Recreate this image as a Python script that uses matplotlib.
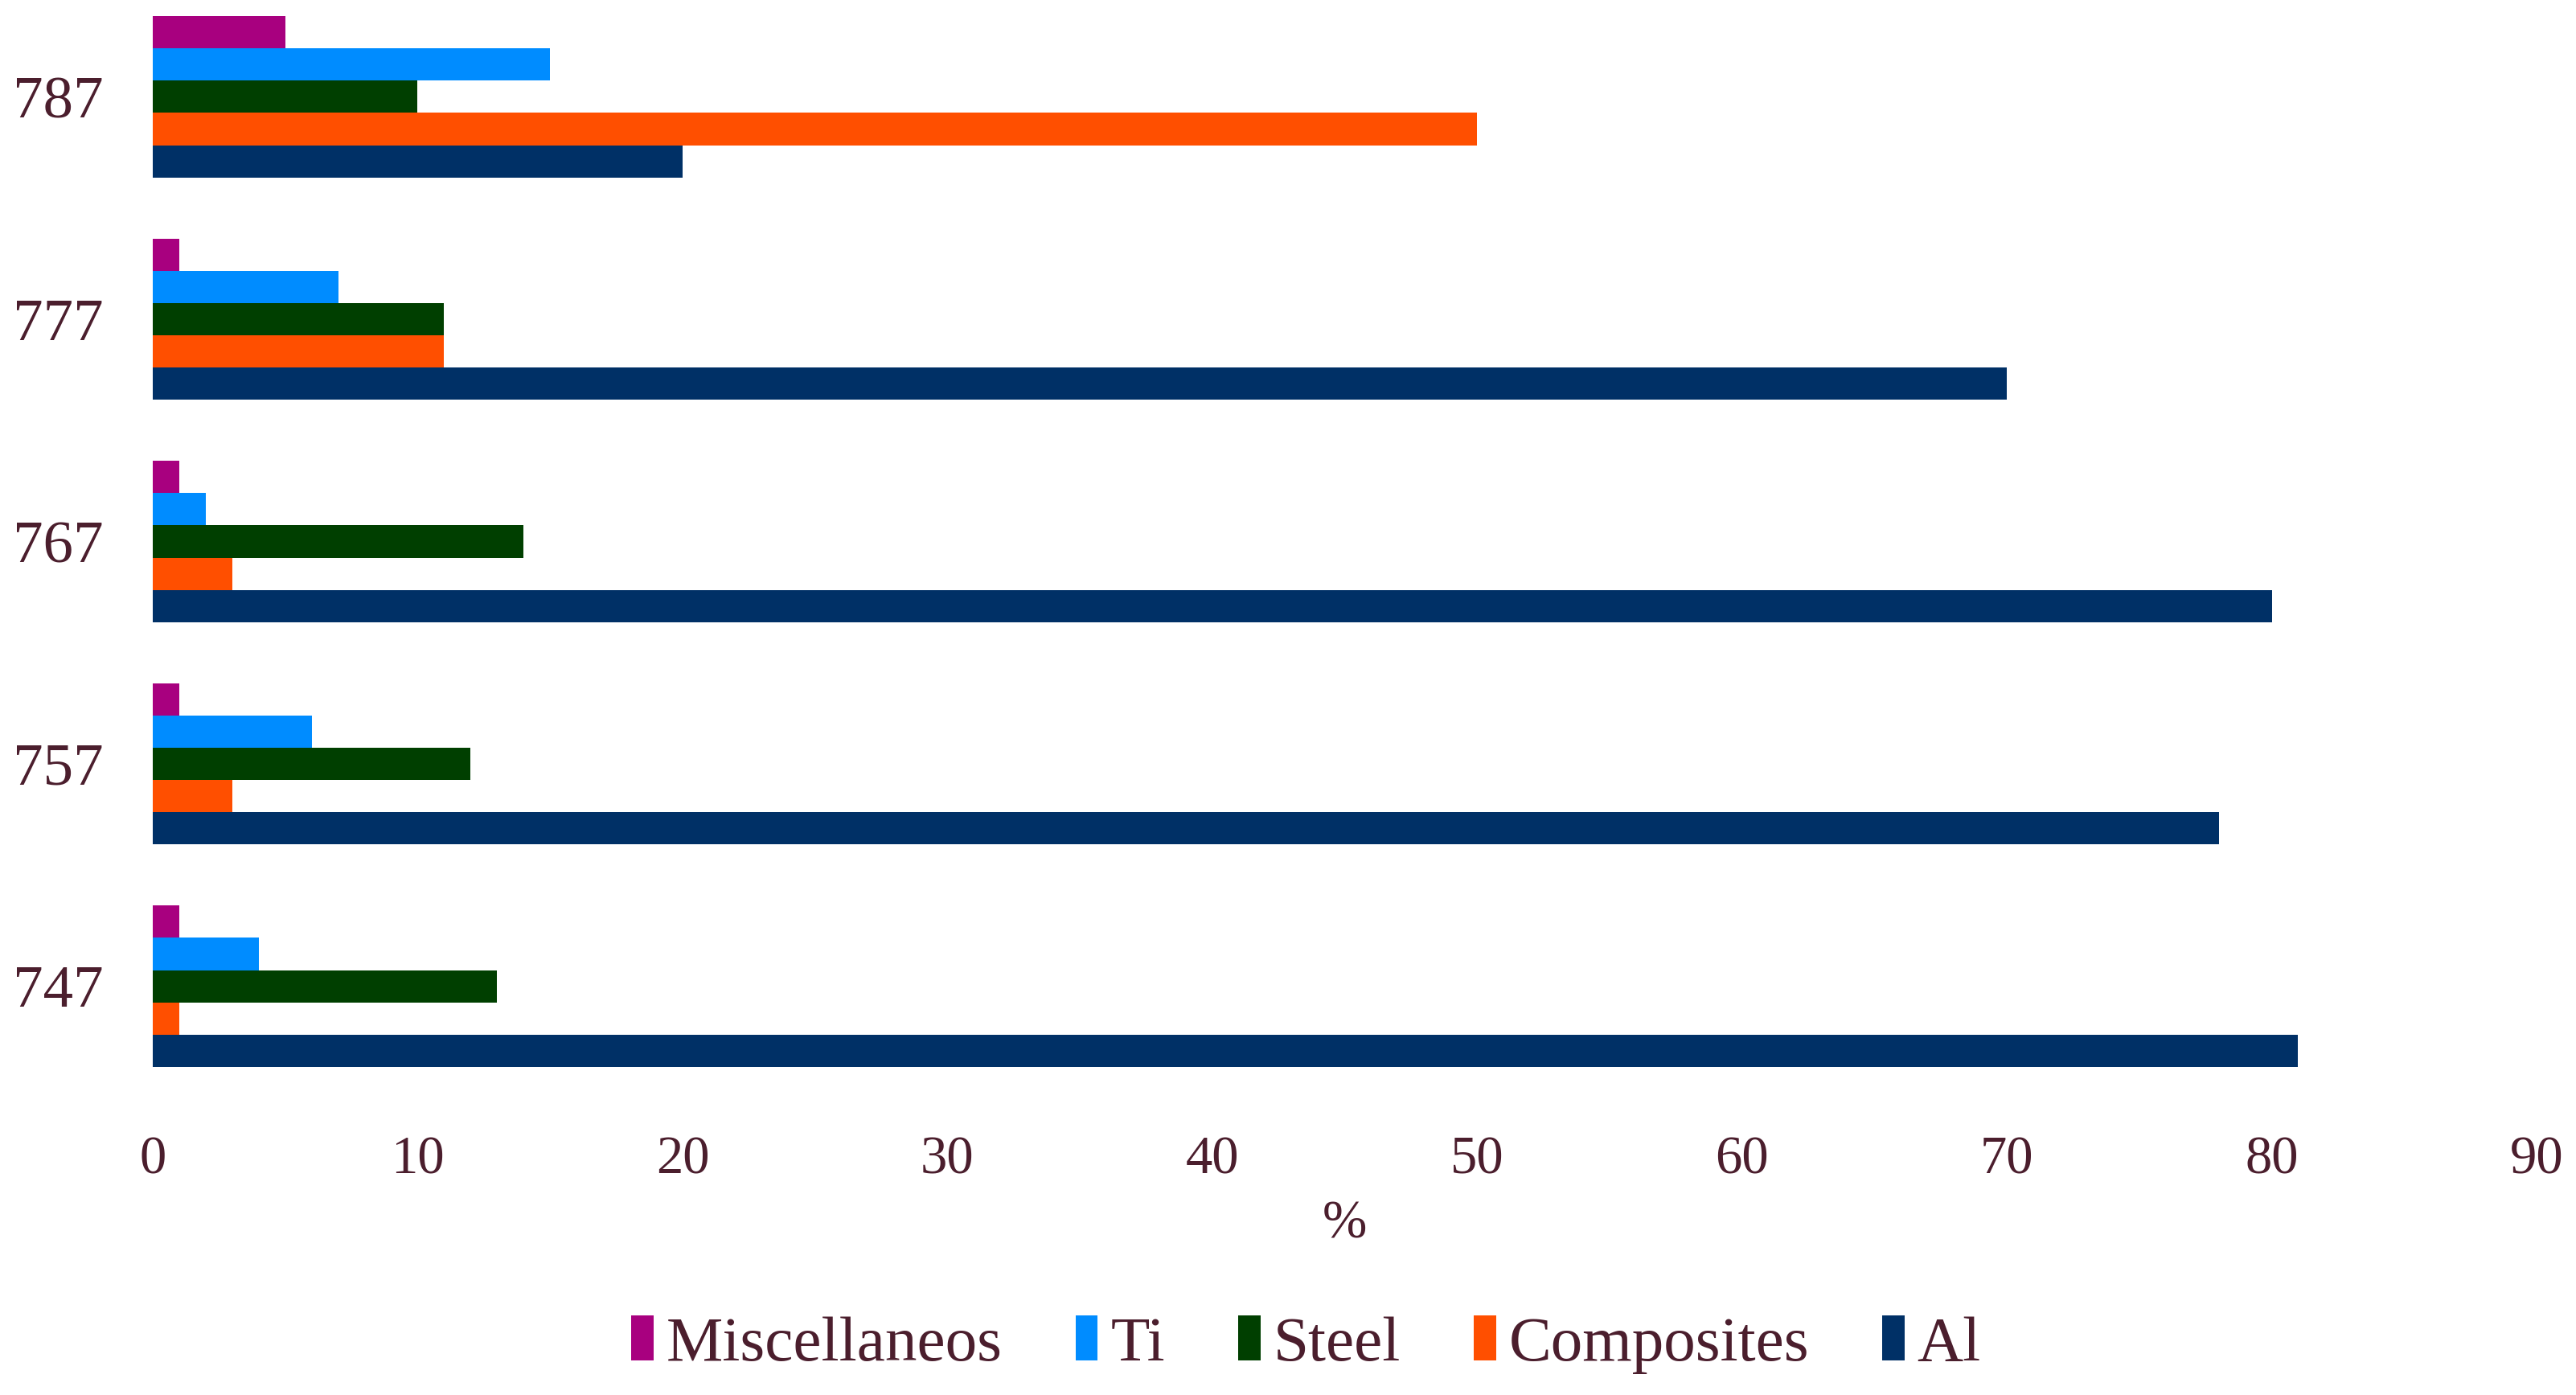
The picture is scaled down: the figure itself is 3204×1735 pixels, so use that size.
import numpy as np
import matplotlib
matplotlib.use("Agg")
from matplotlib import pyplot as plt

# aircraft models, bottom to top
models = ["747", "757", "767", "777", "787"]

# material share in % per model (same order as models)
al = [81, 78, 80, 70, 20]
composites = [1, 3, 3, 11, 50]
steel = [13, 12, 14, 11, 10]
ti = [4, 6, 2, 7, 15]
misc = [1, 1, 1, 1, 5]

series = [("Miscellaneos", misc, "#a8007f"),
          ("Ti", ti, "#008cff"),
          ("Steel", steel, "#003f00"),
          ("Composites", composites, "#ff4f00"),
          ("Al", al, "#003066")]

txt = "#4b1e2d"
plt.rcParams["font.family"] = ["Liberation Serif", "DejaVu Serif"]

fig = plt.figure(figsize=(32.04, 17.35), dpi=100)
ax = fig.add_axes([0.0593, 0.2133, 0.9254, 0.797])

y = np.arange(len(models))
h = 0.145
for i, (name, vals, col) in enumerate(series):
    off = (2 - i) * h
    ax.barh(y + off, vals, height=h, color=col, label=name)

ax.set_xlim(0, 90)
ax.set_ylim(-0.5, 4.5)
ax.set_xticks(np.arange(0, 91, 10))
ax.set_yticks(y)
ax.set_yticklabels(models)
ax.tick_params(axis="y", length=0, pad=44, labelsize=54, labelcolor=txt)
ax.tick_params(axis="x", length=0, pad=34, labelsize=48, labelcolor=txt)
for s in ax.spines.values():
    s.set_visible(False)
ax.set_xlabel("%", fontsize=48, color=txt, labelpad=14)

leg = fig.legend(loc="center", bbox_to_anchor=(0.507, 0.036), ncol=5, frameon=False,
                 fontsize=57, handlelength=0.35, handleheight=0.7, handletextpad=0.2,
                 columnspacing=1.15)
for t in leg.get_texts():
    t.set_color(txt)

fig.savefig("out.png", dpi=100, facecolor="white")
